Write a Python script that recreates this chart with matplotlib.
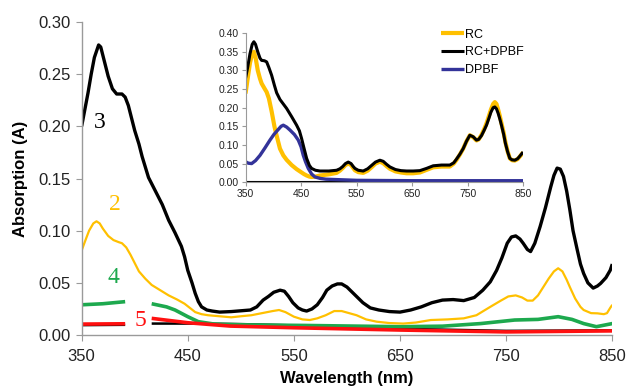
import matplotlib
matplotlib.use("Agg")
import matplotlib.pyplot as plt
from matplotlib.ticker import FormatStrFormatter

# ---------------- data (main plot) ----------------
wl_3 = [350, 353, 356, 359, 362, 366, 368, 371, 375, 379, 383, 388, 391, 394, 397, 400, 404, 407,
        413, 419, 426, 432, 438, 444, 447, 450, 454, 457, 460, 463, 468, 473, 480, 491, 509, 515,
        521, 526, 531, 537, 541, 545, 549, 554, 558, 562, 567, 572, 577, 581, 586, 591, 595, 600,
        605, 609, 615, 622, 630, 640, 650, 660, 670, 680, 690, 700, 710, 720, 728, 735, 741, 746,
        751, 755, 759, 763, 766, 770, 773, 777, 782, 787, 792, 795, 798, 801, 804, 807, 810, 813,
        817, 820, 823, 827, 832, 836, 839, 844, 848, 850]
abs_3 = [0.200, 0.216, 0.232, 0.250, 0.266, 0.278, 0.276, 0.264, 0.248, 0.236, 0.231, 0.231, 0.228,
         0.220, 0.208, 0.196, 0.183, 0.171, 0.151, 0.139, 0.125, 0.110, 0.098, 0.085, 0.075, 0.062,
         0.050, 0.040, 0.032, 0.027, 0.024, 0.023, 0.022, 0.0225, 0.024, 0.027, 0.0335, 0.037, 0.041,
         0.043, 0.042, 0.037, 0.031, 0.026, 0.024, 0.023, 0.025, 0.029, 0.036, 0.043, 0.047, 0.049,
         0.049, 0.046, 0.041, 0.037, 0.031, 0.026, 0.024, 0.0225, 0.022, 0.024, 0.027, 0.031, 0.0335,
         0.034, 0.033, 0.036, 0.043, 0.051, 0.062, 0.074, 0.088, 0.094, 0.095, 0.092, 0.088, 0.082,
         0.080, 0.088, 0.104, 0.122, 0.142, 0.153, 0.160, 0.159, 0.152, 0.138, 0.120, 0.100, 0.0815,
         0.068, 0.059, 0.050, 0.045, 0.047, 0.0495, 0.055, 0.062, 0.068]

wl_2 = [350, 354, 357, 361, 364, 367, 370, 375, 380, 385, 388, 392, 396, 400, 404, 410, 416, 424,
        432, 440, 447, 452, 457, 463, 469, 480, 491, 500, 510, 520, 530, 536, 542, 550, 558, 565,
        572, 580, 588, 595, 602, 609, 618, 628, 640, 653, 665, 679, 695, 710, 722, 735, 745, 752,
        759, 765, 770, 775, 780, 785, 790, 795, 799, 803, 807, 810, 815, 820, 823, 830, 836, 842,
        845, 848, 850]
abs_2 = [0.081, 0.092, 0.100, 0.107, 0.109, 0.107, 0.102, 0.095, 0.091, 0.089, 0.088, 0.084, 0.077,
         0.069, 0.061, 0.054, 0.048, 0.043, 0.038, 0.034, 0.030, 0.026, 0.022, 0.020, 0.019, 0.018,
         0.017, 0.018, 0.019, 0.021, 0.023, 0.024, 0.022, 0.0176, 0.015, 0.0144, 0.016, 0.019, 0.023,
         0.023, 0.021, 0.019, 0.015, 0.0128, 0.0115, 0.011, 0.012, 0.0144, 0.015, 0.016, 0.019,
         0.027, 0.033, 0.037, 0.038, 0.036, 0.033, 0.033, 0.038, 0.046, 0.054, 0.061, 0.064, 0.061,
         0.053, 0.046, 0.035, 0.027, 0.024, 0.021, 0.0208, 0.020, 0.021, 0.026, 0.029]

wl_4a = [350, 370, 391]
abs_4a = [0.029, 0.030, 0.032]
wl_4b = [416, 430, 438, 450, 460, 475, 500, 560, 650, 690, 726, 758, 780, 799, 812, 823, 835, 850]
abs_4b = [0.030, 0.027, 0.024, 0.0176, 0.0128, 0.0105, 0.0098, 0.0092, 0.008, 0.0085, 0.011,
          0.0144, 0.015, 0.0176, 0.015, 0.011, 0.008, 0.011]

wl_5a = [350, 391]
abs_5a = [0.0105, 0.0108]
wl_5b = [416, 450, 490, 550, 650, 750, 850]
abs_5b = [0.016, 0.0118, 0.0086, 0.007, 0.0048, 0.003, 0.004]

wl_kb_a = [350, 391]
abs_kb_a = [0.0095, 0.0098]
wl_kb_b = [416, 460, 500, 560, 650, 750, 850]
abs_kb_b = [0.011, 0.011, 0.0105, 0.009, 0.006, 0.004, 0.0045]

# ---------------- data (inset) ----------------
wl_in = [350, 354, 358, 362, 365, 368, 372, 376, 379, 384, 388, 392, 397, 402, 406, 412, 418, 424,
         433, 442, 447, 451, 455, 460, 465, 469, 476, 484, 500, 514, 520, 525, 530, 535, 540, 544,
         547, 553, 562, 570, 577, 584, 592, 598, 604, 610, 620, 630, 640, 652, 664, 676, 688, 703,
         718, 725, 730, 736, 742, 748, 754, 760, 766, 770, 775, 780, 784, 788, 792, 796, 799, 802,
         805, 808, 811, 815, 818, 822, 826, 830, 835, 840, 843, 850]
rc_dpbf = [0.279, 0.310, 0.345, 0.370, 0.377, 0.370, 0.350, 0.333, 0.327, 0.326, 0.323, 0.308,
           0.287, 0.260, 0.240, 0.222, 0.210, 0.198, 0.176, 0.153, 0.138, 0.117, 0.093, 0.064,
           0.045, 0.037, 0.032, 0.030, 0.030, 0.032, 0.036, 0.042, 0.050, 0.054, 0.050, 0.042,
           0.037, 0.032, 0.030, 0.036, 0.045, 0.054, 0.059, 0.056, 0.048, 0.041, 0.034, 0.031,
           0.030, 0.030, 0.031, 0.037, 0.044, 0.046, 0.046, 0.052, 0.062, 0.075, 0.090, 0.110,
           0.126, 0.122, 0.113, 0.115, 0.125, 0.140, 0.153, 0.170, 0.188, 0.200, 0.202, 0.197,
           0.185, 0.170, 0.153, 0.128, 0.105, 0.082, 0.064, 0.060, 0.059, 0.063, 0.068, 0.081]

rc = [0.238, 0.280, 0.320, 0.345, 0.350, 0.335, 0.300, 0.278, 0.265, 0.252, 0.242, 0.225, 0.190,
      0.150, 0.125, 0.090, 0.072, 0.060, 0.046, 0.035, 0.030, 0.026, 0.022, 0.018, 0.015, 0.014,
      0.015, 0.018, 0.021, 0.025, 0.031, 0.038, 0.046, 0.050, 0.046, 0.038, 0.032, 0.027, 0.025,
      0.031, 0.040, 0.050, 0.055, 0.051, 0.043, 0.036, 0.029, 0.026, 0.024, 0.024, 0.026, 0.033,
      0.040, 0.042, 0.042, 0.050, 0.060, 0.074, 0.090, 0.110, 0.126, 0.121, 0.112, 0.115, 0.127,
      0.143, 0.158, 0.176, 0.195, 0.210, 0.215, 0.210, 0.195, 0.178, 0.158, 0.132, 0.108, 0.083,
      0.064, 0.059, 0.058, 0.062, 0.067, 0.080]

wl_dp = [350, 355, 361, 368, 376, 385, 394, 401, 408, 414, 418, 424, 430, 438, 445, 450, 454, 458,
         463, 469, 475, 485, 495, 550, 650, 750, 850]
dpbf = [0.055, 0.051, 0.050, 0.058, 0.072, 0.092, 0.113, 0.128, 0.140, 0.150, 0.153, 0.148, 0.140,
        0.128, 0.113, 0.095, 0.072, 0.055, 0.037, 0.022, 0.014, 0.010, 0.008, 0.005, 0.004, 0.004,
        0.004]

wl_zero = [350, 850]
zero_line = [0.001, 0.001]

x_ticks = [350, 450, 550, 650, 750, 850]

# ---------------- style ----------------
plt.rcParams['font.family'] = ['Liberation Sans', 'DejaVu Sans']
BLACK = '#000000'
GOLD = '#FFC000'
GREEN = '#1DA94E'
RED = '#FF1010'
BLUE = '#333399'
GREY = '#9a9a9a'

fig = plt.figure(figsize=(6.28, 3.86), dpi=100)
ax = fig.add_axes([0.130, 0.132, 0.845, 0.811])

kw = dict(solid_joinstyle='round', solid_capstyle='butt')
ax.plot(wl_kb_a, abs_kb_a, color=BLACK, lw=1.8, **kw)
ax.plot(wl_kb_b, abs_kb_b, color=BLACK, lw=1.8, **kw)
ax.plot(wl_4a, abs_4a, color=GREEN, lw=2.6, **kw)
ax.plot(wl_4b, abs_4b, color=GREEN, lw=2.6, **kw)
ax.plot(wl_5a, abs_5a, color=RED, lw=2.6, **kw)
ax.plot(wl_5b, abs_5b, color=RED, lw=2.6, **kw)
ax.plot(wl_2, abs_2, color=GOLD, lw=1.6, **kw)
ax.plot(wl_3, abs_3, color=BLACK, lw=2.4, **kw)

ax.set_xlim(350, 850)
ax.set_ylim(0, 0.30)
ax.set_xticks(x_ticks)
ax.set_yticks([0.00, 0.05, 0.10, 0.15, 0.20, 0.25, 0.30])
ax.yaxis.set_major_formatter(FormatStrFormatter('%.2f'))
for s in ['top', 'right']:
    ax.spines[s].set_visible(False)
for s in ['left', 'bottom']:
    ax.spines[s].set_color(GREY)
    ax.spines[s].set_linewidth(1.0)
ax.tick_params(axis='both', direction='out', length=4, color=GREY, labelsize=12,
               labelcolor='#222222')
ax.tick_params(axis='y', pad=4)
ax.tick_params(axis='x', pad=6)
ax.set_xlabel('Wavelength (nm)', fontsize=12, fontweight='bold', labelpad=5)
ax.set_ylabel('Absorption (A)', fontsize=12, fontweight='bold', labelpad=7)

serif = ['Liberation Serif', 'DejaVu Serif']
ax.text(367, 0.204, '3', color=BLACK, fontsize=17, family=serif, ha='center', va='center')
ax.text(381, 0.125, '2', color=GOLD, fontsize=17, family=serif, ha='center', va='center')
ax.text(380, 0.055, '4', color=GREEN, fontsize=17, family=serif, ha='center', va='center')
ax.text(405, 0.014, '5', color=RED, fontsize=17, family=serif, ha='center', va='center')

# ---------------- inset ----------------
ins = fig.add_axes([0.391, 0.528, 0.442, 0.386])
ins.plot(wl_zero, zero_line, color=BLACK, lw=1.5)
ins.plot(wl_in, rc, color=GOLD, lw=3.0, label='RC', **kw)
ins.plot(wl_dp, dpbf, color=BLUE, lw=2.4, label='DPBF', **kw)
ins.plot(wl_in, rc_dpbf, color=BLACK, lw=2.2, label='RC+DPBF', **kw)
ins.set_xlim(350, 850)
ins.set_ylim(0, 0.40)
ins.set_xticks(x_ticks)
ins.set_yticks([0.00, 0.05, 0.10, 0.15, 0.20, 0.25, 0.30, 0.35, 0.40])
ins.yaxis.set_major_formatter(FormatStrFormatter('%.2f'))
for s in ['top', 'right']:
    ins.spines[s].set_visible(False)
for s in ['left', 'bottom']:
    ins.spines[s].set_color(GREY)
    ins.spines[s].set_linewidth(0.8)
ins.tick_params(axis='both', direction='out', length=3, color=GREY, labelsize=7.5,
                labelcolor='#222222', pad=2)
ins.patch.set_alpha(0)

h, l = ins.get_legend_handles_labels()
order = [0, 2, 1]
ins.legend([h[i] for i in order], [l[i] for i in order], loc='upper left',
           bbox_to_anchor=(0.705, 1.03), frameon=False, fontsize=9, handlelength=1.8,
           handletextpad=0.1, labelspacing=0.45, borderpad=0, borderaxespad=0)

fig.savefig('out.png', dpi=100)
